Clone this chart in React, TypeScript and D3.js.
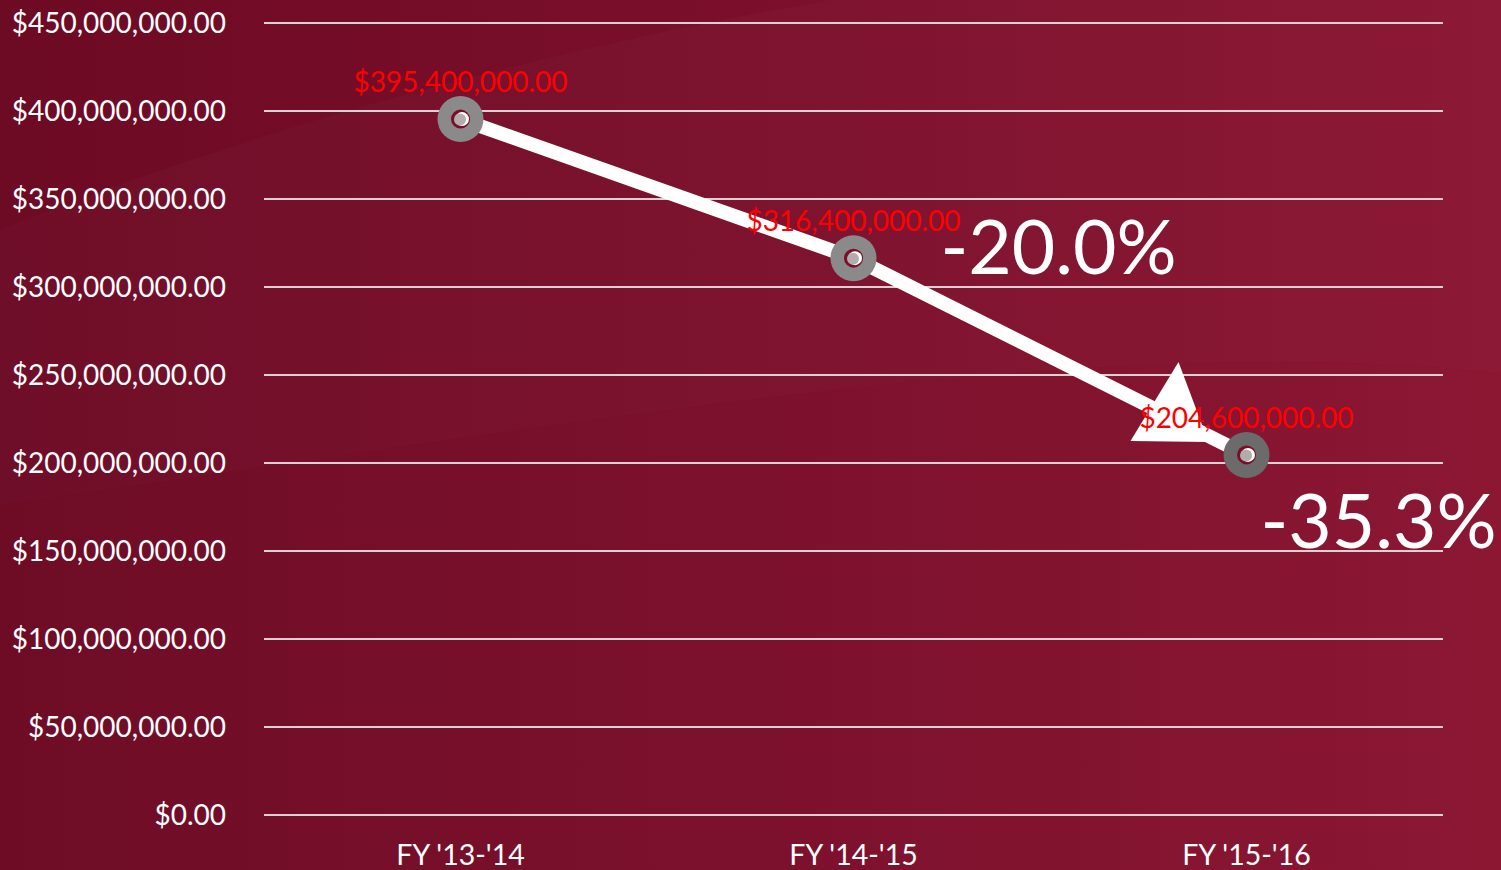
import React from "react";
import * as d3 from "d3";

const categories = ["FY '13-'14", "FY '14-'15", "FY '15-'16"];
const values = [395400000, 316400000, 204600000];
const yTicks = [0, 50e6, 100e6, 150e6, 200e6, 250e6, 300e6, 350e6, 400e6, 450e6];
const changes = ["-20.0%", "-35.3%"];
const ringColors = ["#8a8a8a", "#8a8a8a", "#6b6b6b"];

const W = 1501;
const H = 870;
const FONT = "Lato, 'Open Sans', sans-serif";

export default function App() {
  const x = d3.scaleBand<string>().domain(categories).range([264, 1443]);
  const y = d3.scaleLinear().domain([0, 450e6]).range([815, 23]);
  const cx = (c: string) => (x(c) as number) + x.bandwidth() / 2;
  const fmt = (v: number) => "$" + d3.format(",.2f")(v);
  const pts: [number, number][] = categories.map((c, i) => [cx(c), y(values[i])]);
  const line = d3.line<[number, number]>()(pts) as string;
  const p3 = pts[2];

  return (
    <svg width={W} height={H} style={{ position: "absolute", left: 0, top: 0, display: "block" }}>
      <defs>
        <linearGradient id="bg" x1="0" y1="0" x2="1" y2="0">
          <stop offset="0" stopColor="#6d0a24" />
          <stop offset="0.5" stopColor="#7b0f2b" />
          <stop offset="1" stopColor="#8a1531" />
        </linearGradient>
      </defs>
      <rect x={0} y={0} width={W} height={H} fill="url(#bg)" />
      <path d="M830,0 L1501,0 L1501,373 C1100,330 600,420 0,505 L0,230 C300,110 600,40 830,0 Z" fill="#ffffff" opacity={0.018} />
      <path d="M0,505 C600,420 1100,330 1501,373 L1501,870 L0,870 Z" fill="#ffffff" opacity={0.01} />

      {yTicks.map((t) => (
        <g key={t}>
          <line x1={264} x2={1443} y1={y(t)} y2={y(t)} stroke="#d9d1d3" strokeWidth={2} />
          <text x={226} y={y(t) + 10} textAnchor="end" fill="#ffffff" fontSize={28} fontFamily={FONT}>
            {fmt(t)}
          </text>
        </g>
      ))}

      {categories.map((c) => (
        <text key={c} x={cx(c)} y={865} textAnchor="middle" fill="#ffffff" fontSize={28.5} fontFamily={FONT}>
          {c}
        </text>
      ))}

      <path d={line} fill="none" stroke="#ffffff" strokeWidth={14} />
      <path
        d={`M${p3[0] - 68},${p3[1] - 93} L${p3[0] - 116},${p3[1] - 14} L${p3[0] - 38},${p3[1] - 13} Z`}
        fill="#ffffff"
      />

      {pts.map(([px, py], i) => (
        <g key={i}>
          <circle cx={px} cy={py} r={23} fill={ringColors[i]} />
          <circle cx={px} cy={py} r={9.5} fill="#7a0f2a" />
          <circle cx={px + 1.5} cy={py} r={7} fill="#ffffff" />
          <circle cx={px - 0.5} cy={py + 0.5} r={6} fill="#b3acad" />
        </g>
      ))}

      {pts.map(([px, py], i) => (
        <text key={i} x={px} y={py - 27} textAnchor="middle" fill="#ff0000" fontSize={28} fontFamily={FONT}>
          {fmt(values[i])}
        </text>
      ))}

      <text x={pts[1][0] + 87} y={pts[1][1] + 16} fill="#ffffff" fontSize={75} fontFamily={FONT}>
        {changes[0]}
      </text>
      <text x={pts[2][0] + 14} y={pts[2][1] + 93} fill="#ffffff" fontSize={75} fontFamily={FONT}>
        {changes[1]}
      </text>
    </svg>
  );
}
